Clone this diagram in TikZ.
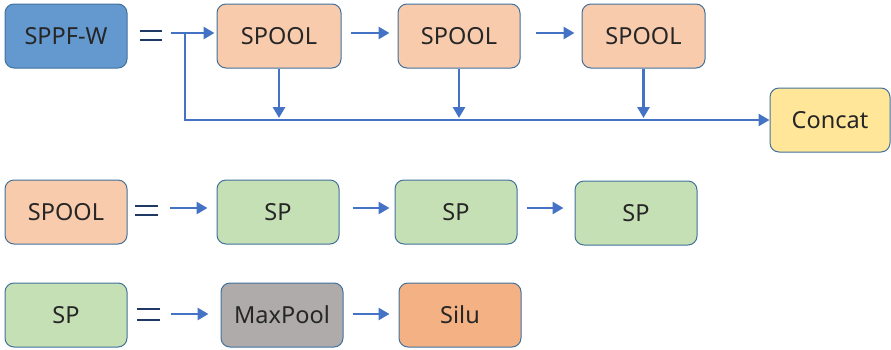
\documentclass[tikz,border=0pt]{standalone}
\usepackage{fontspec}
\setmainfont{Noto Sans}
\usetikzlibrary{arrows.meta,calc}
\definecolor{boxline}{HTML}{41719C}
\definecolor{arrowblue}{HTML}{4472C4}
\definecolor{eqnavy}{HTML}{203864}
\definecolor{fblue}{HTML}{6399CF}
\definecolor{fpeach}{HTML}{F8CBAD}
\definecolor{fgreen}{HTML}{C5E0B4}
\definecolor{fgray}{HTML}{AFABAB}
\definecolor{forange}{HTML}{F4B183}
\definecolor{fyellow}{HTML}{FFE699}
\tikzset{
  blk/.style={draw=boxline, line width=1pt, rounded corners=9pt, minimum width=122pt,
    minimum height=64pt, inner sep=0pt, font=\fontsize{23.5}{27}\selectfont, text=black!85},
  arr/.style={draw=arrowblue, line width=2.8pt,
    -{Triangle[length=11pt,width=12pt]}},
  eqbar/.style={draw=eqnavy, line width=2.6pt}
}
\begin{document}
\begin{tikzpicture}[x=1pt,y=-1pt]
\useasboundingbox (0,0) rectangle (891,349);
% first row: SPPF-W
\node[blk, fill=fblue] (sppf) at (66,36) {SPPF-W};
\node[blk, fill=fpeach, minimum width=124pt] (s1) at (279,36) {SPOOL};
\node[blk, fill=fpeach] (s2) at (459,36) {SPOOL};
\node[blk, fill=fpeach, minimum width=123pt] (s3) at (643.5,36) {SPOOL};
\node[blk, fill=fyellow, minimum width=120pt] (concat) at (830,120) {Concat};
\draw[eqbar] (140,31) -- (162,31) (140,40) -- (162,40);
\coordinate (in1) at (171,33);
\coordinate (jn) at (185,33);
\draw[arr, shorten >=2pt] (in1) -- ([yshift=3pt]s1.west);
\draw[arr] (jn) |- (concat.west);
\draw[arr, shorten <=9pt, shorten >=8pt] ([yshift=3pt]s1.east) -- ([yshift=3pt]s2.west);
\draw[arr, shorten <=15pt, shorten >=7pt] ([yshift=3pt]s2.east) -- ([yshift=3pt]s3.west);
\draw[arr, shorten >=2pt] (s1.south) -- (s1.south |- concat.west);
\draw[arr, shorten >=2pt] (s2.south) -- (s2.south |- concat.west);
\draw[arr, shorten >=2pt] (s3.south) -- (s3.south |- concat.west);
% second row: SPOOL
\node[blk, fill=fpeach] (spool) at (66,212) {SPOOL};
\node[blk, fill=fgreen] (sp1) at (278,212) {SP};
\node[blk, fill=fgreen] (sp2) at (456,212) {SP};
\node[blk, fill=fgreen] (sp3) at (636,213) {SP};
\draw[eqbar] (135,206) -- (158,206) (135,215) -- (158,215);
\coordinate (in2) at (170,208);
\draw[arr, shorten >=9pt] (in2) -- (sp1.west |- in2);
\draw[arr, shorten <=13pt, shorten >=5pt] (sp1.east |- in2) -- (sp2.west |- in2);
\draw[arr, shorten <=9pt, shorten >=11pt] (sp2.east |- in2) -- (sp3.west |- in2);
% third row: SP
\node[blk, fill=fgreen] (sp) at (66,315) {SP};
\node[blk, fill=fgray] (maxpool) at (282,315) {MaxPool};
\node[blk, fill=forange] (silu) at (460,315) {Silu};
\draw[eqbar] (137,309) -- (160,309) (137,320) -- (160,320);
\coordinate (in3) at (171,314);
\draw[arr, shorten >=12pt] (in3) -- (maxpool.west |- in3);
\draw[arr, shorten <=9pt, shorten >=9pt] (maxpool.east |- in3) -- (silu.west |- in3);
\end{tikzpicture}
\end{document}
